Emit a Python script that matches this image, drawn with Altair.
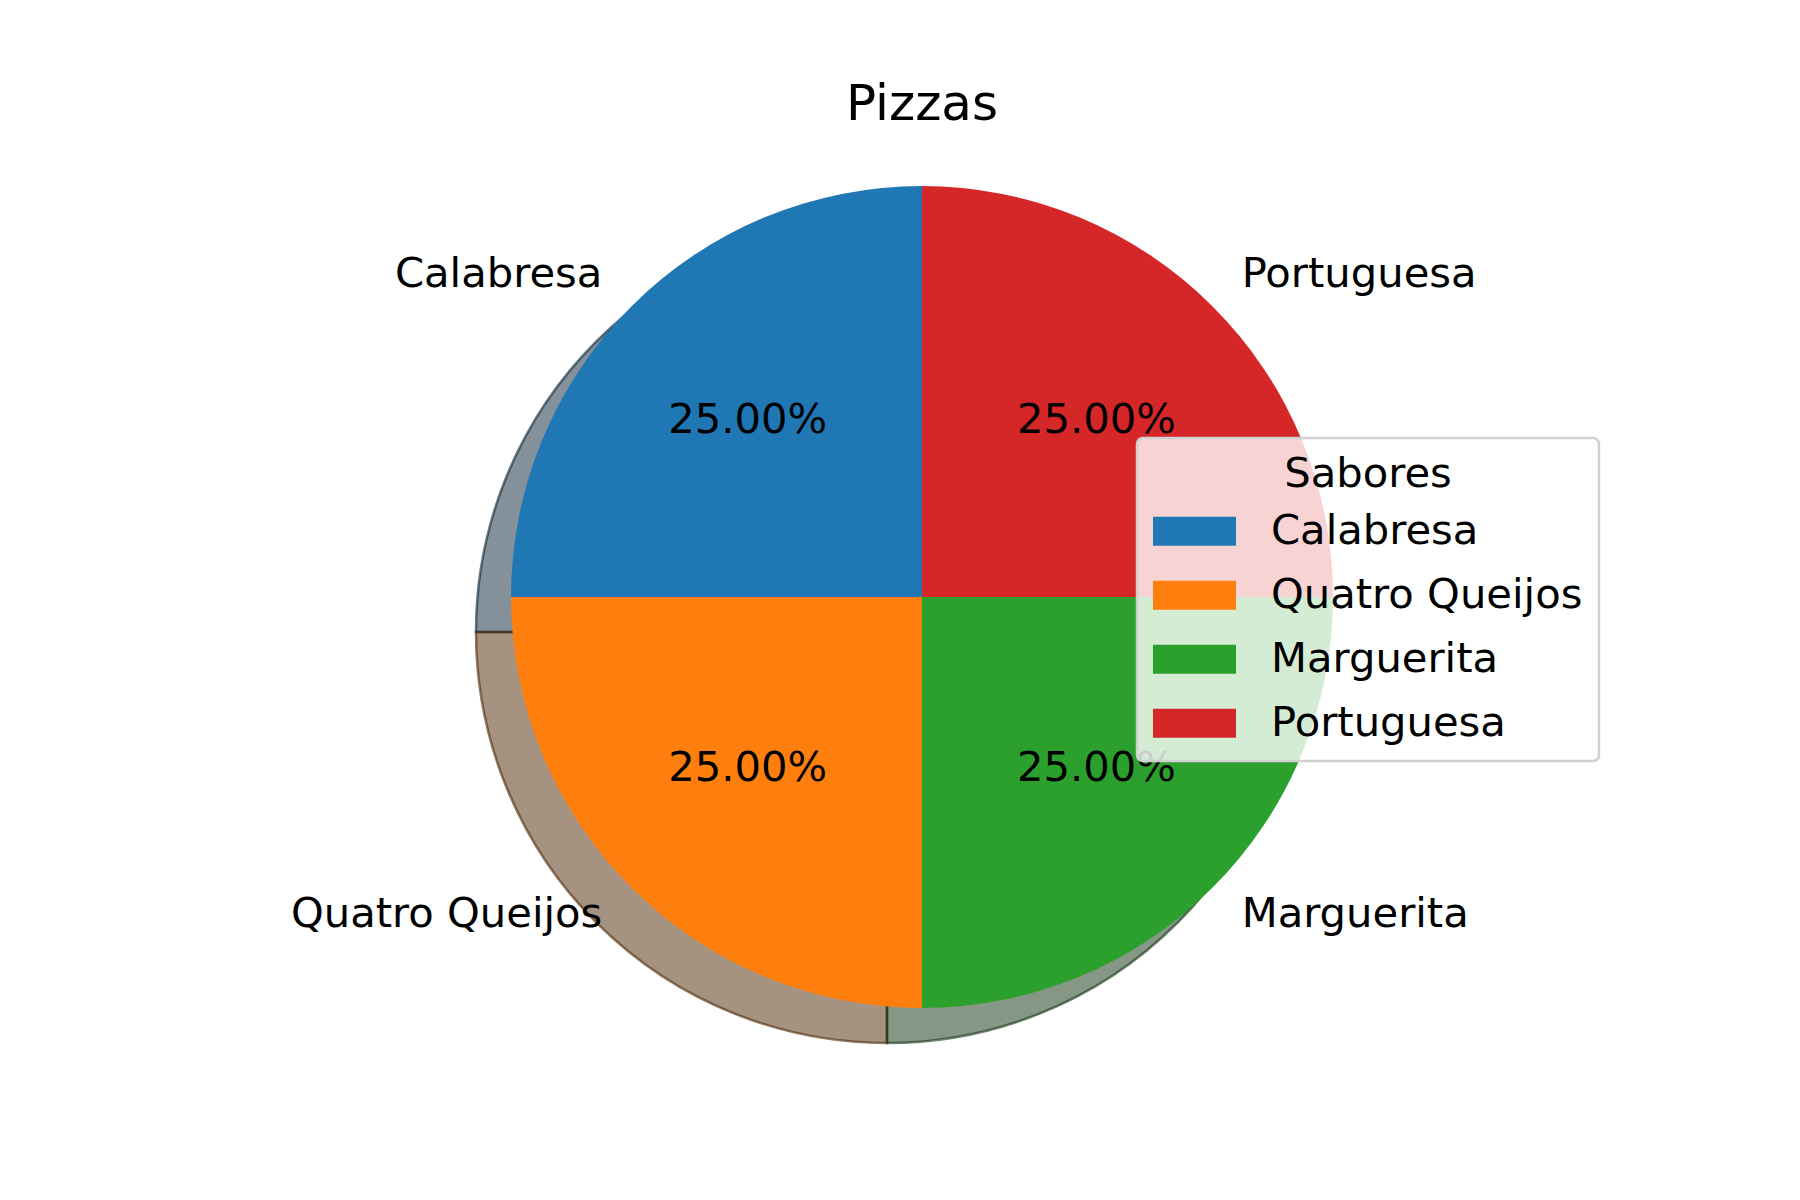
import math
import altair as alt
import pandas as pd

# ---- data ----
sabores = ["Calabresa", "Quatro Queijos", "Marguerita", "Portuguesa"]
fatias = [25, 25, 25, 25]
cores = ["#1f77b4", "#ff7f0e", "#2ca02c", "#d62728"]
titulo = "Pizzas"
titulo_legenda = "Sabores"

# ---- derived table ----
total = sum(fatias)
rows = []
acc = 0
for i, (s, v, c) in enumerate(zip(sabores, fatias, cores)):
    mid = 90 + (acc + v / 2) / total * 360  # matplotlib: start 90deg, counter-clockwise
    acc += v
    r, g, b = int(c[1:3], 16), int(c[3:5], 16), int(c[5:7], 16)
    sombra = "#%02x%02x%02x" % (int(r * 0.3), int(g * 0.3), int(b * 0.3))
    rows.append(dict(
        sabor=s, valor=v, ordem=len(sabores) - 1 - i,
        pct=f"{v / total * 100:.2f}%",
        lado="esq" if math.cos(math.radians(mid)) < 0 else "dir",
        sombra=sombra,
    ))
df = pd.DataFrame(rows)

FONT = "DejaVu Sans"
TOP = 200
CX, CY, R = 922, 597 - TOP, 411
SDX, SDY = -35, 35
FS = 41.7

base = alt.Chart(df).encode(
    theta=alt.Theta("valor:Q", stack=True),
    order=alt.Order("ordem:Q"),
)

shadow = base.mark_arc(outerRadius=R, fillOpacity=0.5, strokeOpacity=0.6, strokeWidth=2.5).encode(
    x=alt.value(CX + SDX), y=alt.value(CY + SDY),
    fill=alt.Fill("sombra:N", scale=None, legend=None),
    stroke=alt.Stroke("sombra:N", scale=None, legend=None),
)

pie = base.mark_arc(outerRadius=R).encode(
    x=alt.value(CX), y=alt.value(CY),
    color=alt.Color(
        "sabor:N",
        scale=alt.Scale(domain=sabores, range=cores),
        legend=alt.Legend(
            orient="none", legendX=1137, legendY=438 - TOP,
            title=titulo_legenda, titleFont=FONT, titleFontSize=FS, titleFontWeight="normal",
            titleColor="black", titleAnchor="middle", titlePadding=-6,
            labelFont=FONT, labelFontSize=FS, labelColor="black", labelLimit=600,
            symbolType="M-1,-0.35L1,-0.35L1,0.35L-1,0.35Z", symbolSize=6889,
            symbolStrokeWidth=0, symbolOpacity=1,
            fillColor="rgba(255,255,255,0.8)", strokeColor="#d0d0d0", cornerRadius=6,
            padding=16, labelOffset=35, rowPadding=-40,
        ),
    ),
)

pct = base.mark_text(radius=0.6 * R, font=FONT, fontSize=FS, color="black",
                     align="center", baseline="middle", dy=-3).encode(
    x=alt.value(CX), y=alt.value(CY), text=alt.Text("pct:N"),
)

lbl_esq = base.mark_text(radius=1.1 * R, font=FONT, fontSize=FS, color="black",
                         align="right", baseline="middle", dy=-3).encode(
    x=alt.value(CX), y=alt.value(CY),
    text=alt.condition(alt.datum.lado == "esq", alt.Text("sabor:N"), alt.value("")),
)

lbl_dir = base.mark_text(radius=1.1 * R, font=FONT, fontSize=FS, color="black",
                         align="left", baseline="middle", dy=-3).encode(
    x=alt.value(CX), y=alt.value(CY),
    text=alt.condition(alt.datum.lado == "dir", alt.Text("sabor:N"), alt.value("")),
)

chart = alt.layer(shadow, pie, pct, lbl_esq, lbl_dir).resolve_scale(
    color="independent", fill="independent", stroke="independent"
).properties(
    width=1800, height=1200 - TOP,
    autosize=alt.AutoSizeParams(type="none"),
    padding={"left": 0, "top": TOP, "right": 0, "bottom": 0},
    background="white",
    title=alt.TitleParams(titulo, font=FONT, fontSize=50, fontWeight="normal", color="black",
                          anchor="middle", dx=22, offset=16, baseline="alphabetic"),
).configure_view(stroke=None).configure_legend(strokeWidth=2.5)

chart.save("out.html", embed_options={"renderer": "svg", "actions": False})
